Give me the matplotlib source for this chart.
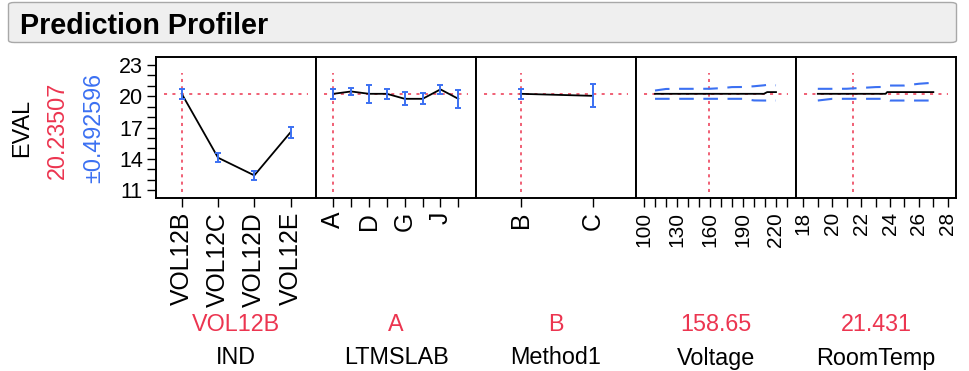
import matplotlib
matplotlib.use("Agg")
import matplotlib.pyplot as plt
from matplotlib.patches import FancyBboxPatch
from matplotlib.ticker import FixedLocator

plt.rcParams['font.family'] = ['Liberation Sans', 'DejaVu Sans']

# ---------------- data ----------------
response_name = "EVAL"
response_value = "20.23507"
response_ci = "\u00b10.492596"
y_ticks = [11, 14, 17, 20, 23]
y_minor = [12, 13, 15, 16, 18, 19, 21, 22]
ref_value = 20.23507

ind_cats = ['VOL12B', 'VOL12C', 'VOL12D', 'VOL12E']
ind_pred = [20.235, 14.10, 12.40, 16.55]
ind_err = [0.49, 0.45, 0.45, 0.54]

ltms_cats = ['A', 'B', 'D', 'E', 'G', 'H', 'J', 'K']
ltms_pred = [20.235, 20.46, 20.235, 20.235, 19.755, 19.755, 20.66, 19.755]
ltms_err = [0.49, 0.32, 0.85, 0.48, 0.62, 0.54, 0.46, 0.88]

method_cats = ['B', 'C']
method_pred = [20.235, 20.04]
method_err = [0.49, 1.09]

voltage_x = [110, 120, 130, 140, 150, 160, 170, 180, 190, 200, 209, 212, 220]
voltage_pred = [20.235, 20.235, 20.235, 20.235, 20.235, 20.235, 20.235, 20.235,
                20.235, 20.235, 20.235, 20.40, 20.40]
voltage_upper = [20.55, 20.70, 20.715, 20.715, 20.715, 20.72, 20.78, 20.88,
                 20.89, 20.96, 21.05, 21.10, 21.05]
voltage_lower = [19.755, 19.755, 19.755, 19.755, 19.755, 19.755, 19.755, 19.755,
                 19.755, 19.60, 19.59, 19.59, 19.59]
voltage_ticks = [100, 110, 120, 130, 140, 150, 160, 170, 180, 190, 200, 210, 220, 230]
voltage_labeled = [100, 130, 160, 190, 220]
voltage_current = 158.65

roomtemp_x = [19, 20, 21, 22, 23, 23.7, 23.8, 24, 25, 26, 27]
roomtemp_pred = [20.235, 20.235, 20.235, 20.235, 20.235, 20.235, 20.40, 20.40,
                 20.40, 20.40, 20.40]
roomtemp_upper = [20.715, 20.715, 20.72, 20.80, 20.88, 20.90, 20.95, 21.03,
                  21.03, 21.20, 21.30]
roomtemp_lower = [19.59, 19.755, 19.755, 19.755, 19.755, 19.755, 19.70, 19.59,
                  19.59, 19.59, 19.59]
roomtemp_ticks = [18, 19, 20, 21, 22, 23, 24, 25, 26, 27, 28]
roomtemp_labeled = [18, 20, 22, 24, 26, 28]
roomtemp_current = 21.431

factor_names = ['IND', 'LTMSLAB', 'Method1', 'Voltage', 'RoomTemp']
factor_current = ['VOL12B', 'A', 'B', '158.65', '21.431']

# ---------------- style ----------------
W, H = 969, 371
RED = '#ec3550'
BLUE = '#3b70f2'
BLACK = '#000000'
FONT = 'Liberation Sans'

fig = plt.figure(figsize=(W / 100, H / 100), dpi=100)
fig.patch.set_facecolor('white')

# title bar
box = FancyBboxPatch((8.5 / W, 1 - 42.5 / H), (956.5 - 8.5) / W, (42.5 - 2.5) / H,
                     boxstyle="round,pad=0,rounding_size=0.006",
                     transform=fig.transFigure, facecolor='#efefef',
                     edgecolor='#a8a8a8', linewidth=1.0)
fig.patches.append(box)
fig.text(19.5 / W, 1 - 26.5 / H, "Prediction Profiler", fontsize=20.6,
         fontweight='bold', family=FONT, va='center', ha='left', color='black')

panel_x = [156, 316, 476, 636, 796, 956]
top, bottom = 57, 198
ylim = (10.23, 23.77)


def make_ax(i):
    x0, x1 = panel_x[i], panel_x[i + 1]
    ax = fig.add_axes([x0 / W, 1 - bottom / H, (x1 - x0) / W, (bottom - top) / H])
    ax.set_ylim(*ylim)
    for s in ax.spines.values():
        s.set_linewidth(1.4)
        s.set_color('black')
    ax.tick_params(axis='x', direction='out', length=6.5, width=1.0, pad=3.5,
                   labelrotation=90, colors='black')
    ax.tick_params(axis='y', which='both', direction='out', length=6.5, width=1.0, pad=3)
    if i == 0:
        ax.yaxis.set_major_locator(FixedLocator(y_ticks))
        ax.yaxis.set_minor_locator(FixedLocator(y_minor))
        ax.set_yticklabels([str(t) for t in y_ticks], fontsize=15.5, family=FONT)
    else:
        ax.set_yticks([])
    ax.axhline(ref_value, xmin=0.05, xmax=0.95, color=RED, lw=1.1,
               linestyle=(0, (2, 3.5)), zorder=1)
    return ax


def cur_line(ax, x):
    ax.axvline(x, ymin=0.045, ymax=0.884, color=RED, lw=1.1,
               linestyle=(0, (2, 2.8)), zorder=1)


def cat_panel(i, cats, pred, err, xlim, labels, fs):
    ax = make_ax(i)
    xs = list(range(len(cats)))
    ax.plot(xs, pred, color=BLACK, lw=1.3, zorder=3)
    ax.errorbar(xs, pred, yerr=err, fmt='none', ecolor=BLUE, elinewidth=1.4,
                capsize=2.4, capthick=1.4, zorder=4)
    ax.set_xlim(*xlim)
    ax.set_xticks(xs)
    ax.set_xticklabels(labels, fontsize=fs, family=FONT)
    cur_line(ax, 0)
    return ax


cat_panel(0, ind_cats, ind_pred, ind_err, (-0.71, 3.70), ind_cats, 17.8)
cat_panel(1, ltms_cats, ltms_pred, ltms_err, (-0.97, 7.99),
          [c if k % 2 == 0 else '' for k, c in enumerate(ltms_cats)], 17.8)
cat_panel(2, method_cats, method_pred, method_err, (-0.62, 1.60), method_cats, 17.8)


def cont_panel(i, x, pred, up, lo, xlim, ticks, labeled, cur):
    ax = make_ax(i)
    ax.plot(x, pred, color=BLACK, lw=1.3, zorder=3)
    ax.plot(x, up, color=BLUE, lw=1.5, linestyle=(0, (7, 4.6)), zorder=4)
    ax.plot(x, lo, color=BLUE, lw=1.5, linestyle=(0, (7, 4.6)), zorder=4)
    ax.set_xlim(*xlim)
    ax.set_xticks(ticks)
    ax.set_xticklabels([str(t) if t in labeled else '' for t in ticks],
                       fontsize=15, family=FONT)
    cur_line(ax, cur)
    return ax


cont_panel(3, voltage_x, voltage_pred, voltage_upper, voltage_lower,
           (92.7, 238.2), voltage_ticks, voltage_labeled, voltage_current)
cont_panel(4, roomtemp_x, roomtemp_pred, roomtemp_upper, roomtemp_lower,
           (17.49, 28.57), roomtemp_ticks, roomtemp_labeled, roomtemp_current)

# y-side labels
mid_y = 1 - 128 / H
fig.text(22 / W, mid_y, response_name, rotation=90, fontsize=16.8, family=FONT,
         ha='center', va='center', color='black')
fig.text(57.5 / W, 1 - 130 / H, response_value, rotation=90, fontsize=16.8,
         family=FONT, ha='center', va='center', color=RED)
fig.text(93.5 / W, mid_y, response_ci, rotation=90, fontsize=16.8, family=FONT,
         ha='center', va='center', color=BLUE)

# bottom labels
for i in range(5):
    cx = (panel_x[i] + panel_x[i + 1]) / 2 / W
    fig.text(cx, 1 - 324.5 / H, factor_current[i], fontsize=16.8, family=FONT,
             ha='center', va='center', color=RED)
    fig.text(cx, 1 - 358 / H, factor_names[i], fontsize=16.8, family=FONT,
             ha='center', va='center', color='black')

fig.savefig('out.png', dpi=100, facecolor='white')
